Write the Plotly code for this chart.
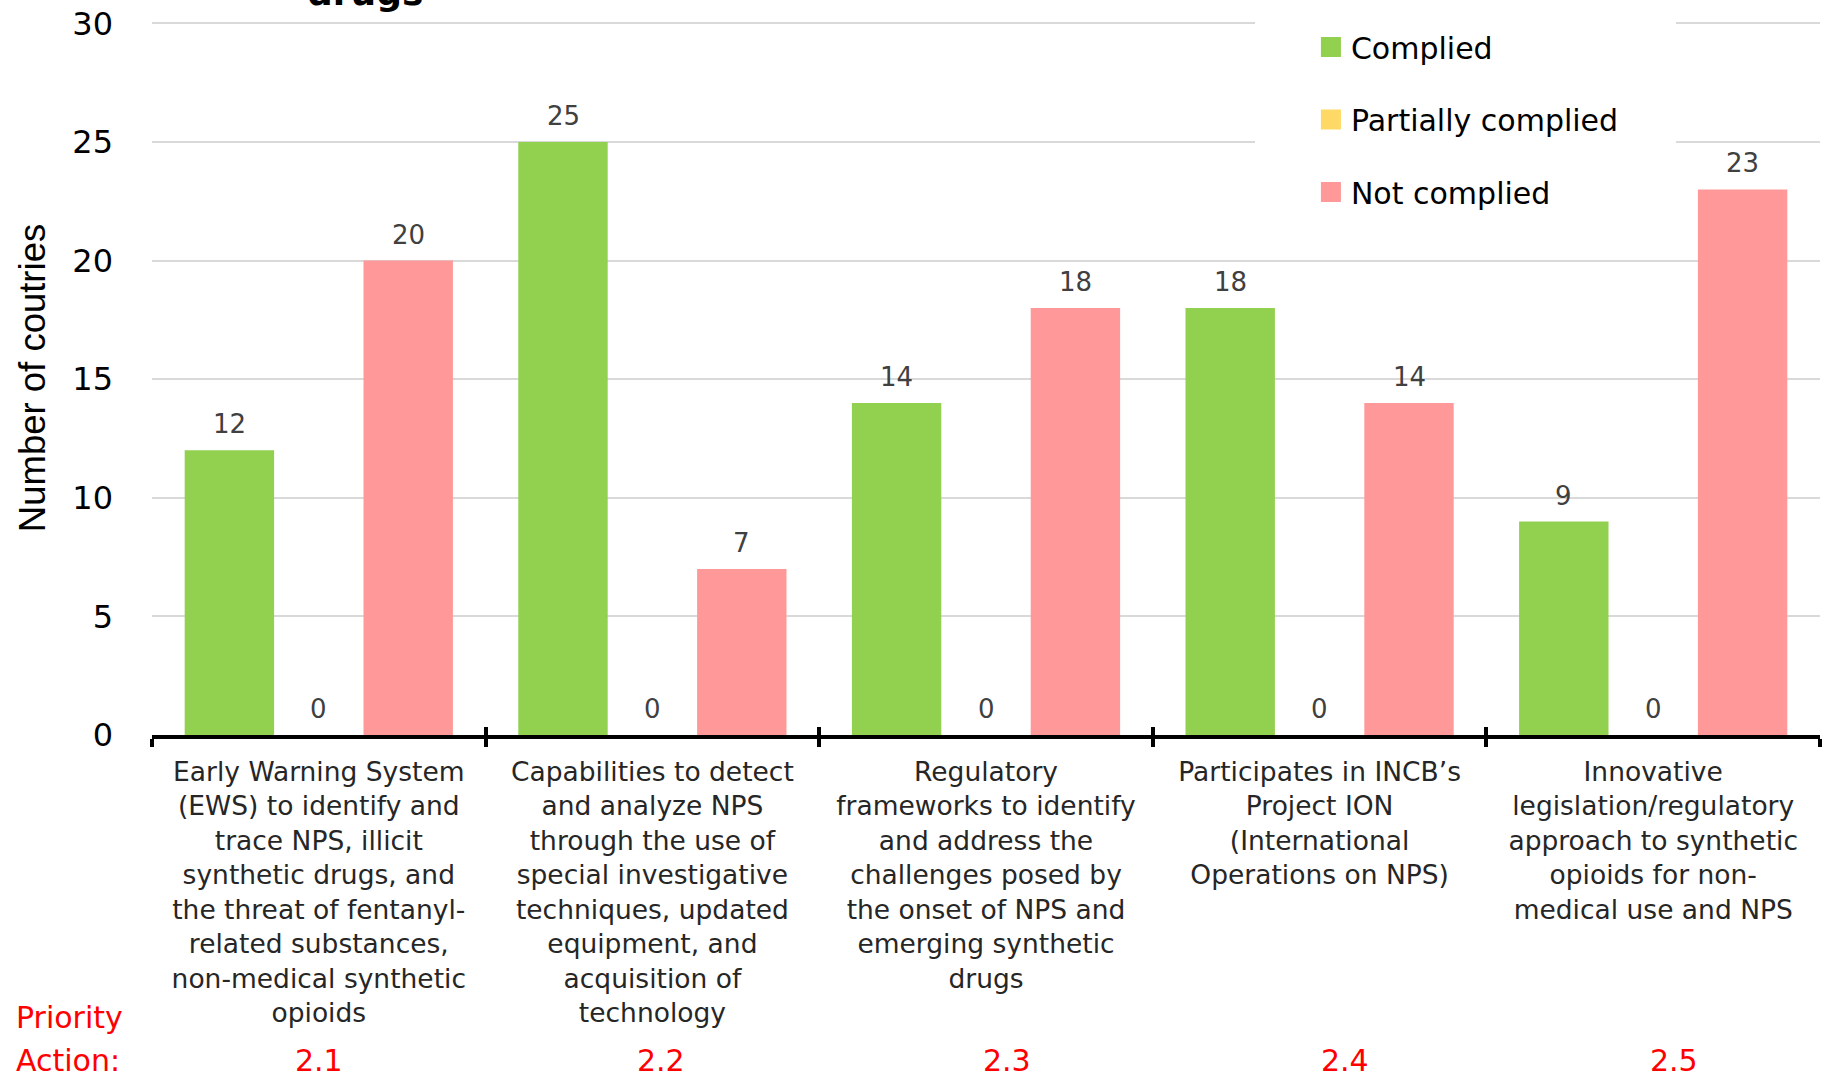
import plotly.graph_objects as go

# ---------------- data ----------------
categories = ["2.1", "2.2", "2.3", "2.4", "2.5"]
tick_labels = [
    "Early Warning System<br>(EWS) to identify and<br>trace NPS, illicit<br>synthetic drugs, and<br>the threat of fentanyl-<br>related substances,<br>non-medical synthetic<br>opioids",
    "Capabilities to detect<br>and analyze NPS<br>through the use of<br>special investigative<br>techniques, updated<br>equipment, and<br>acquisition of<br>technology",
    "Regulatory<br>frameworks to identify<br>and address the<br>challenges posed by<br>the onset of NPS and<br>emerging synthetic<br>drugs",
    "Participates in INCB\u2019s<br>Project ION<br>(International<br>Operations on NPS)",
    "Innovative<br>legislation/regulatory<br>approach to synthetic<br>opioids for non-<br>medical use and NPS",
]
series_names = ["Complied", "Partially complied", "Not complied"]
complied = [12, 25, 14, 18, 9]
partially_complied = [0, 0, 0, 0, 0]
not_complied = [20, 7, 18, 14, 23]
y_tick_values = [0, 5, 10, 15, 20, 25, 30]
y_title = "Number of coutries"
title_fragment = "drugs"
priority_label = ["Priority", "Action:"]

series_values = [complied, partially_complied, not_complied]
colors = ["#92d050", "#ffd966", "#ff9999"]

FONT = "DejaVu Sans"
BARGAP = 0.196
bar_w = (1 - BARGAP) / 3

fig = go.Figure()

for name, vals, col in zip(series_names, series_values, colors):
    fig.add_trace(go.Bar(
        x=categories, y=vals, name=name, marker=dict(color=col, line=dict(width=0)),
        showlegend=False, hoverinfo="x+y+name",
    ))

# legend entries (larger square symbols)
for name, col in zip(series_names, colors):
    fig.add_trace(go.Scatter(
        x=[None], y=[None], mode="markers", name=name, legendgroup=name,
        marker=dict(symbol="square", size=16, color=col, line=dict(color=col, width=4)),
    ))

# invisible trace on overlay axis for crossing ticks
fig.add_trace(go.Scatter(x=categories, y=[None] * len(categories), xaxis="x2",
                         mode="markers", showlegend=False, hoverinfo="skip"))

annotations = []
# data labels
for i, vals in enumerate(series_values):
    for j, v in enumerate(vals):
        annotations.append(dict(
            x=j + (i - 1) * bar_w, y=v, xref="x", yref="y", text=str(v),
            showarrow=False, yanchor="bottom", yshift=9,
            font=dict(family=FONT, size=26, color="#404040"),
        ))

# priority numbers under each category
num_shift = [0, 9, 21, 25, 21]
for j, c in enumerate(categories):
    annotations.append(dict(
        x=j, y=-0.4552, xref="x", yref="paper", text=c, showarrow=False,
        xshift=num_shift[j], yanchor="middle",
        font=dict(family=FONT, size=30, color="#ff0000"),
    ))
annotations.append(dict(x=-0.0827, y=-0.3950, xref="paper", yref="paper",
                        text=priority_label[0], showarrow=False, xanchor="left", yanchor="middle",
                        font=dict(family=FONT, size=30, color="#ff0000")))
annotations.append(dict(x=-0.0827, y=-0.4552, xref="paper", yref="paper",
                        text=priority_label[1], showarrow=False, xanchor="left", yanchor="middle",
                        font=dict(family=FONT, size=30, color="#ff0000")))
# cut-off title fragment
annotations.append(dict(x=0.1277, y=1, xref="paper", yref="paper", text="<b>%s</b>" % title_fragment,
                        showarrow=False, xanchor="center", yanchor="bottom", yshift=6,
                        font=dict(family=FONT, size=36, color="#000000")))

fig.update_layout(
    width=1834, height=1080,
    margin=dict(l=152, r=14, t=21, b=345),
    paper_bgcolor="white", plot_bgcolor="white",
    barmode="group", bargap=BARGAP, bargroupgap=0,
    font=dict(family=FONT, color="#000000"),
    xaxis=dict(
        type="category", categoryorder="array", categoryarray=categories,
        range=[-0.5, len(categories) - 0.5], automargin=False,
        tickmode="array", tickvals=categories, ticktext=tick_labels,
        tickson="boundaries", ticks="outside", ticklen=8, tickwidth=4, tickcolor="#000000",
        showline=True, linecolor="#000000", linewidth=4, showgrid=False,
        ticklabelstandoff=10,
        tickfont=dict(family=FONT, size=26.5, color="#262626"),
        fixedrange=True,
    ),
    xaxis2=dict(
        type="category", categoryorder="array", categoryarray=categories,
        overlaying="x", anchor="y", side="bottom", automargin=False,
        range=[-0.5, len(categories) - 0.5],
        tickson="boundaries", ticks="inside", ticklen=8, tickwidth=4, tickcolor="#000000",
        showticklabels=False, showline=False, showgrid=False,
    ),
    yaxis=dict(
        range=[0, 30.1], tickmode="array", tickvals=y_tick_values, automargin=False,
        showgrid=True, gridcolor="#d9d9d9", gridwidth=1.5,
        showline=False, ticks="", zeroline=False,
        ticklabelstandoff=38,
        tickfont=dict(family=FONT, size=32, color="#000000"),
        title=dict(text=y_title, standoff=15,
                   font=dict(family="Liberation Sans", size=36.5, color="#000000")),
    ),
    legend=dict(
        x=0.6948, y=1.0, xanchor="left", yanchor="top",
        bgcolor="rgba(0,0,0,0)", itemsizing="trace", tracegroupgap=30.5,
        font=dict(family=FONT, size=30, color="#000000"),
    ),
    shapes=[dict(type="rect", xref="paper", yref="paper", x0=0.6613, x1=0.9137, y0=0.707, y1=1.06,
                 fillcolor="white", line=dict(width=0), layer="above")],
    annotations=annotations,
)

fig.write_html(
    "out.html",
    config={"displayModeBar": False},
    post_script="document.body.style.margin='0px';document.body.style.overflow='hidden';",
)
